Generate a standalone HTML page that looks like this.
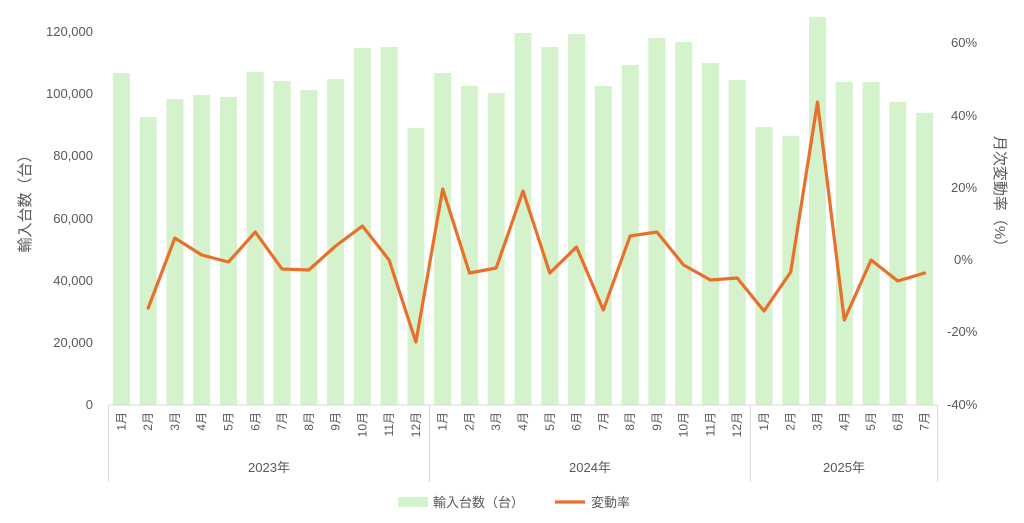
<!DOCTYPE html>
<html><head><meta charset="utf-8"><style>
html,body{margin:0;padding:0;background:#fff;}
svg text{font-family:"Liberation Sans","Noto Sans CJK JP",sans-serif;fill:#595959;}
</style></head><body>
<svg width="1024" height="518" viewBox="0 0 1024 518" xmlns="http://www.w3.org/2000/svg">
<g id="bars" fill="#d4f2cc"></g>
<line x1="108" y1="405" x2="938" y2="405" stroke="#d9d9d9" stroke-width="1"/>
<g stroke="#d9d9d9" stroke-width="1">
<line x1="108.5" y1="405" x2="108.5" y2="482"/>
<line x1="429.5" y1="405" x2="429.5" y2="482"/>
<line x1="750.5" y1="405" x2="750.5" y2="482"/>
<line x1="937.5" y1="405" x2="937.5" y2="482"/>
</g>
<polyline id="ln" fill="none" stroke="#e8702a" stroke-width="3.2" stroke-linejoin="round" stroke-linecap="round"/>
<g font-size="13" text-anchor="end">
<text x="93" y="409">0</text>
<text x="93" y="347">20,000</text>
<text x="93" y="285">40,000</text>
<text x="93" y="223">60,000</text>
<text x="93" y="160">80,000</text>
<text x="93" y="98">100,000</text>
<text x="93" y="36">120,000</text>
</g>
<g font-size="13" text-anchor="start">
<text x="951" y="47">60%</text>
<text x="951" y="120">40%</text>
<text x="951" y="192">20%</text>
<text x="954" y="264">0%</text>
<text x="947" y="336">-20%</text>
<text x="947" y="409">-40%</text>
</g>
<text transform="translate(30,200) rotate(-90)" font-size="15" text-anchor="middle">輸入台数（台）</text>
<text transform="translate(995,195) rotate(90)" font-size="15" text-anchor="middle">月次変動率（%）</text>
<g id="months" font-size="12"></g>
<g font-size="13" text-anchor="middle">
<text x="269" y="472">2023年</text>
<text x="590" y="472">2024年</text>
<text x="844" y="472">2025年</text>
</g>
<rect x="398" y="497" width="30" height="10" fill="#d4f2cc"/>
<text x="433" y="507" font-size="13">輸入台数（台）</text>
<line x1="555" y1="502" x2="585" y2="502" stroke="#e8702a" stroke-width="3.2"/>
<text x="591" y="507" font-size="13">変動率</text>
</svg>
<script>
var tops=[73,117,99,95,97,72,81,90,79,48,47,128,73,86,93,33,47,34,86,65,38,42,63,80,127,136,17,82,82,102,113];
var ly=[null,308,238,255,262,232,269,270,246,226,260,342,189,273,268,191,273,247,310,236,232,265,280,278,311,272,102,320,260,281,273];
var w=830/31,b=document.getElementById('bars'),m=document.getElementById('months'),pts=[];
var ns="http://www.w3.org/2000/svg";
for(var i=0;i<31;i++){
 var cx=108+w*(i+0.5);
 var r=document.createElementNS(ns,'rect');
 r.setAttribute('x',cx-8.5);r.setAttribute('y',tops[i]);r.setAttribute('width',17);r.setAttribute('height',405-tops[i]);
 b.appendChild(r);
 if(ly[i]!==null)pts.push(cx.toFixed(1)+','+ly[i]);
 var mo=(i<24)?(i%12)+1:i-23;
 var t=document.createElementNS(ns,'text');
 t.setAttribute('transform','translate('+(cx+4)+',412) rotate(-90)');
 t.setAttribute('text-anchor','end');
 t.textContent=mo+'月';
 m.appendChild(t);
}
document.getElementById('ln').setAttribute('points',pts.join(' '));
</script>
</body></html>
